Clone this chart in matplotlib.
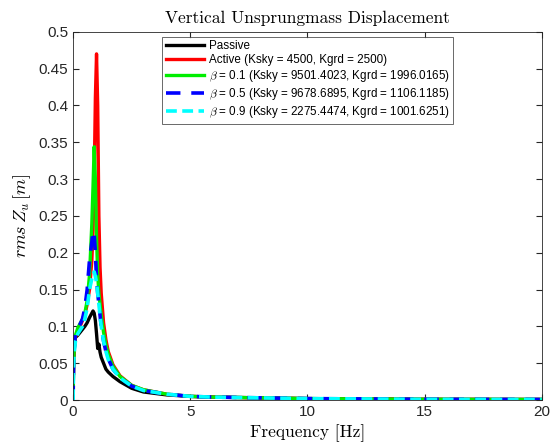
import matplotlib.pyplot as plt

# frequency grids and rms values
freq = [0, 0.02, 0.05, 0.1, 0.2, 0.3, 0.4, 0.5, 0.6, 0.7, 0.8, 0.85, 0.9, 0.95,
        1.0, 1.05, 1.1, 1.15, 1.2, 1.3, 1.4, 1.5, 1.7, 2.0, 2.5, 3.0, 4.0, 5.0,
        6.0, 8.0, 10.0, 15.0, 20.0]

passive = [0, 0.05, 0.075, 0.085, 0.088, 0.092, 0.096, 0.1, 0.105, 0.112, 0.118,
           0.121, 0.118, 0.108, 0.09, 0.07, 0.076, 0.065, 0.058, 0.05, 0.042,
           0.038, 0.032, 0.025, 0.016, 0.011, 0.007, 0.005, 0.004, 0.003, 0.002,
           0.001, 0.0008]
active = [0, 0.05, 0.07, 0.085, 0.095, 0.1, 0.108, 0.115, 0.13, 0.15, 0.19,
          0.23, 0.3, 0.41, 0.47, 0.4, 0.25, 0.18, 0.145, 0.105, 0.082, 0.066,
          0.048, 0.033, 0.02, 0.014, 0.008, 0.005, 0.004, 0.003, 0.002, 0.001,
          0.0008]
beta01 = [0, 0.05, 0.072, 0.088, 0.098, 0.104, 0.11, 0.118, 0.135, 0.17, 0.24,
          0.29, 0.344, 0.3, 0.22, 0.17, 0.145, 0.13, 0.115, 0.092, 0.075, 0.062,
          0.046, 0.032, 0.02, 0.014, 0.008, 0.005, 0.004, 0.003, 0.002, 0.001,
          0.0008]
beta05 = [0, 0.05, 0.07, 0.09, 0.098, 0.103, 0.11, 0.125, 0.15, 0.19, 0.215,
          0.23, 0.225, 0.2, 0.165, 0.145, 0.13, 0.115, 0.1, 0.08, 0.066, 0.056,
          0.042, 0.03, 0.019, 0.013, 0.008, 0.005, 0.004, 0.003, 0.002, 0.001,
          0.0008]
beta09 = [0, 0.045, 0.065, 0.08, 0.09, 0.095, 0.1, 0.11, 0.125, 0.15, 0.165,
          0.17, 0.174, 0.168, 0.16, 0.145, 0.13, 0.115, 0.1, 0.08, 0.066, 0.055,
          0.042, 0.03, 0.019, 0.013, 0.008, 0.005, 0.004, 0.003, 0.002, 0.001,
          0.0008]

labels = ['Passive',
          'Active (Ksky = 4500, Kgrd = 2500)',
          r'$\beta$ = 0.1 (Ksky = 9501.4023, Kgrd = 1996.0165)',
          r'$\beta$ = 0.5 (Ksky = 9678.6895, Kgrd = 1106.1185)',
          r'$\beta$ = 0.9 (Ksky = 2275.4474, Kgrd = 1001.6251)']

plt.rcParams['font.family'] = ['Liberation Sans', 'DejaVu Sans']
plt.rcParams['mathtext.fontset'] = 'cm'

fig = plt.figure(figsize=(5.58, 4.48), dpi=100)
ax = fig.add_axes([0.131, 0.107, 0.84, 0.822])

ax.plot(freq, passive, color='black', lw=2.4, label=labels[0])
ax.plot(freq, active, color='red', lw=2.4, label=labels[1])
ax.plot(freq, beta01, color='#00ee00', lw=2.4, label=labels[2])
ax.plot(freq, beta05, color='blue', lw=2.6, ls=(0, (4, 3)), label=labels[3])
ax.plot(freq, beta09, color='cyan', lw=2.6, ls=(0, (3, 1.5)), label=labels[4])

ax.set_xlim(0, 20)
ax.set_ylim(0, 0.5)
ax.set_xticks([0, 5, 10, 15, 20])
ax.set_yticks([0, 0.05, 0.1, 0.15, 0.2, 0.25, 0.3, 0.35, 0.4, 0.45, 0.5])
ax.set_yticklabels(['0', '0.05', '0.1', '0.15', '0.2', '0.25', '0.3', '0.35',
                    '0.4', '0.45', '0.5'])
ax.tick_params(direction='in', top=True, right=True, labelsize=11,
               colors='#262626', length=4)
for s in ax.spines.values():
    s.set_color('#262626')
    s.set_linewidth(0.6)

ax.set_title('Vertical Unsprungmass Displacement', family='cmr10', fontsize=12.5,
             pad=6)
ax.set_xlabel('Frequency [Hz]', family='cmr10', fontsize=12.5)
ax.set_ylabel(r'$rms\,Z_u\,[m]$', fontsize=13)

leg = ax.legend(loc='upper left', bbox_to_anchor=(0.19, 0.986), fontsize=8.4,
                frameon=True, fancybox=False, edgecolor='#262626',
                handlelength=3.3, handletextpad=0.4, borderpad=0.3,
                labelspacing=0.17, borderaxespad=0)
leg.get_frame().set_linewidth(0.6)

fig.savefig('out.png', dpi=100)
